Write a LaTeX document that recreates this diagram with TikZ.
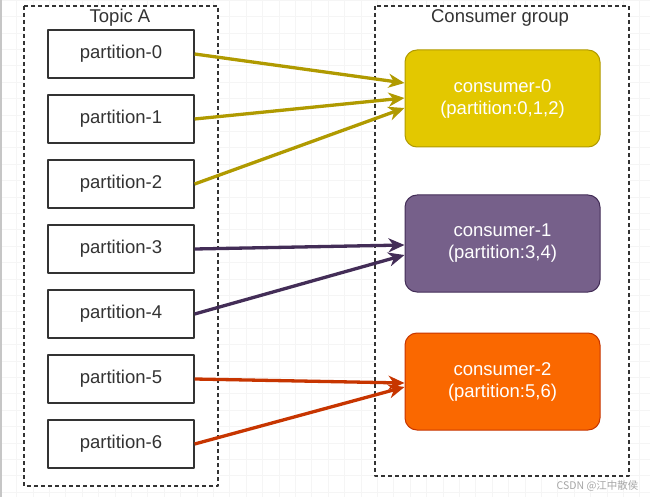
\documentclass[tikz,border=0pt]{standalone}
\usepackage{fontspec}
\setmainfont{Liberation Sans}
\newfontfamily\cjk{Noto Sans CJK SC}
\usetikzlibrary{arrows.meta}
\definecolor{ink}{HTML}{333333}
\definecolor{ylw}{HTML}{E3C800}
\definecolor{ylwline}{HTML}{B09A00}
\definecolor{ppl}{HTML}{76608A}
\definecolor{pplline}{HTML}{432D57}
\definecolor{org}{HTML}{FA6800}
\definecolor{orgline}{HTML}{C73500}
\tikzset{
  part/.style={draw=ink,line width=1.3pt,minimum width=146pt,minimum height=48pt,text=ink,
    font=\fontsize{18.5}{22}\selectfont},
  cons/.style={rounded corners=12pt,line width=1pt,minimum width=195pt,minimum height=97pt,
    text=white,align=center,font=\fontsize{18.5}{22}\selectfont},
  group/.style={draw=ink,fill=white,line width=1.3pt,dash pattern=on 4pt off 3pt},
  feed/.style={line width=3.3pt,-{Stealth[length=16pt,width=14pt,inset=5pt]}}
}
\begin{document}
\begin{tikzpicture}[x=1pt,y=-1pt,line join=round]
\useasboundingbox (0,0) rectangle (650,497);
\fill[white] (0,0) rectangle (650,497);
\draw[gray!8,step=16.4pt] (0,0) grid (650,497);
\fill[gray!45] (0,0) rectangle (2,497);
\draw[group] (24,6) rectangle (218,486);
\draw[group] (375,6) rectangle (629,476);
\node[text=ink,font=\fontsize{18.5}{22}\selectfont] (topic) at (120,18) {Topic A};
\node[text=ink,font=\fontsize{18.5}{22}\selectfont] (grp) at (500,18) {Consumer group};
\foreach \i in {0,...,6}
  \node[part] (p\i) at (121,{54+65*\i}) {partition-\i};
\node[cons,fill=ylw,draw=ylwline] (c0) at (502.5,98.5) {consumer-0\\(partition:0,1,2)};
\node[cons,fill=ppl,draw=pplline] (c1) at (502.5,243.5) {consumer-1\\(partition:3,4)};
\node[cons,fill=org,draw=orgline] (c2) at (502.5,381.5) {consumer-2\\(partition:5,6)};
\draw[feed,ylwline] (p0.east) -- ([yshift=15.5pt]c0.west);
\draw[feed,ylwline] (p1.east) -- ([yshift=0.5pt]c0.west);
\draw[feed,ylwline] (p2.east) -- ([yshift=-9.5pt]c0.west);
\draw[feed,pplline] (p3.east) -- ([yshift=-1.5pt]c1.west);
\draw[feed,pplline] (p4.east) -- ([yshift=-11.5pt]c1.west);
\draw[feed,orgline] (p5.east) -- ([yshift=-1.5pt]c2.west);
\draw[feed,orgline] (p6.east) -- ([yshift=-5.5pt]c2.west);
\node[text=gray!70,font=\cjk\fontsize{10.5}{12}\selectfont,anchor=east] (mark) at (642,486) {CSDN @江中散侯};
\end{tikzpicture}
\end{document}
